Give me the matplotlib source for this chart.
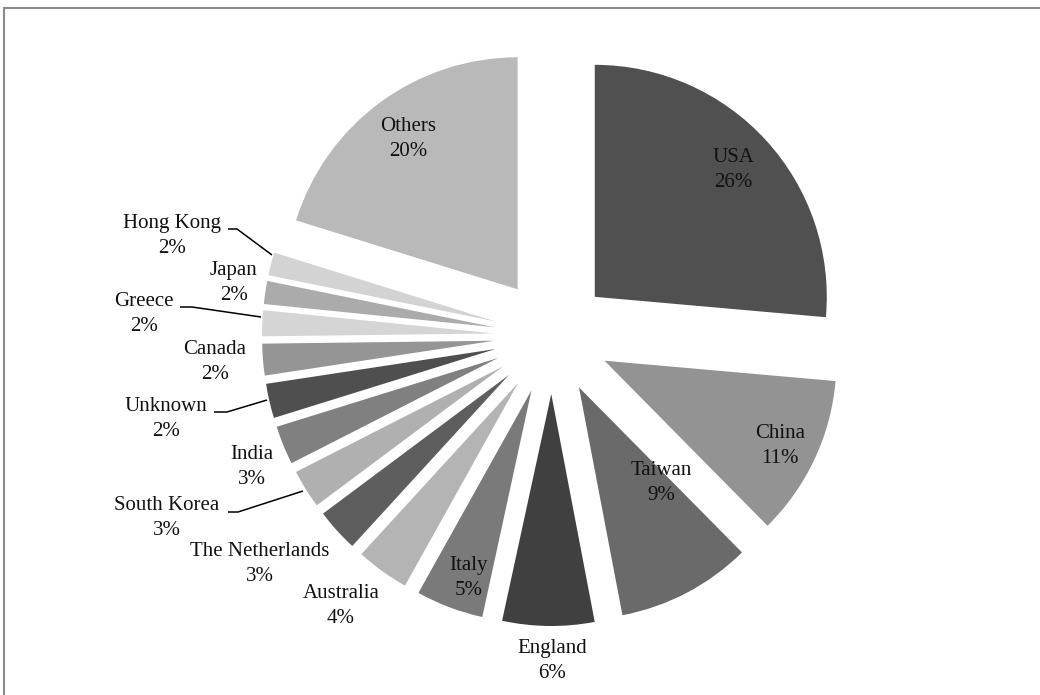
import matplotlib
matplotlib.use('Agg')
import matplotlib.pyplot as plt
from matplotlib.patches import Rectangle

countries = ['USA', 'China', 'Taiwan', 'England', 'Italy', 'Australia',
             'The Netherlands', 'South Korea', 'India', 'Unknown', 'Canada',
             'Greece', 'Japan', 'Hong Kong', 'Others']
shares = [26.4, 11.2, 9.4, 6.4, 4.7, 3.7, 3.0, 2.7, 2.7, 2.4, 2.2, 1.8, 1.6, 1.6, 20.2]
grays = ['#505050', '#939393', '#6a6a6a', '#404040', '#7a7a7a', '#b4b4b4',
         '#5e5e5e', '#b0b0b0', '#808080', '#4f4f4f', '#959595', '#d5d5d5',
         '#ababab', '#d3d3d3', '#b9b9b9']

# layout in pixels, measured from the top-left corner of the picture
W, H = 1040, 695
cx, cy, rad, gap = 552, 336, 232, 58
label_pos = {
    'USA': (733, 170), 'China': (780, 446), 'Taiwan': (661, 483),
    'England': (552, 661), 'Italy': (469, 578), 'Australia': (341, 606),
    'The Netherlands': (260, 564), 'South Korea': (167, 518), 'India': (252, 467),
    'Unknown': (166, 419), 'Canada': (215, 362), 'Greece': (144, 314),
    'Japan': (234, 283), 'Hong Kong': (172, 236), 'Others': (408, 139),
}
leaders = {
    'South Korea': [(228, 512), (238, 512), (303, 491)],
    'Unknown': [(214, 412), (227, 412), (267, 400)],
    'Greece': [(180, 307), (192, 307), (261, 317)],
    'Hong Kong': [(228, 229), (237, 229), (272, 255)],
}

plt.rcParams['font.family'] = ['Liberation Serif', 'DejaVu Serif']

fig = plt.figure(figsize=(W / 100, H / 100), dpi=100)
ax = fig.add_axes([0, 0, 1, 1])
# explode is in data units here (radius is in pixels)
ax.pie(shares, colors=grays, startangle=90, counterclock=False,
       explode=[gap] * len(shares), radius=rad, center=(cx, H - cy),
       wedgeprops=dict(linewidth=0))
ax.set_xlim(0, W)
ax.set_ylim(0, H)
ax.set_aspect('equal')
ax.axis('off')

total = sum(shares)
for name, v in zip(countries, shares):
    x, y = label_pos[name]
    ax.text(x, H - y, '%s\n%.0f%%' % (name, v / total * 100), ha='center', va='center',
            fontsize=15, linespacing=1.4, color='#111111')

for name, pts in leaders.items():
    ax.plot([p[0] for p in pts], [H - p[1] for p in pts], color='black', lw=1.1,
            solid_capstyle='butt')

fig.patches.append(Rectangle((4 / W, -0.5), 2, 0.5 + 1 - 8 / H, transform=fig.transFigure,
                             fill=False, edgecolor='#8a8a8a', lw=1.5))

fig.savefig('out.png', dpi=100)
